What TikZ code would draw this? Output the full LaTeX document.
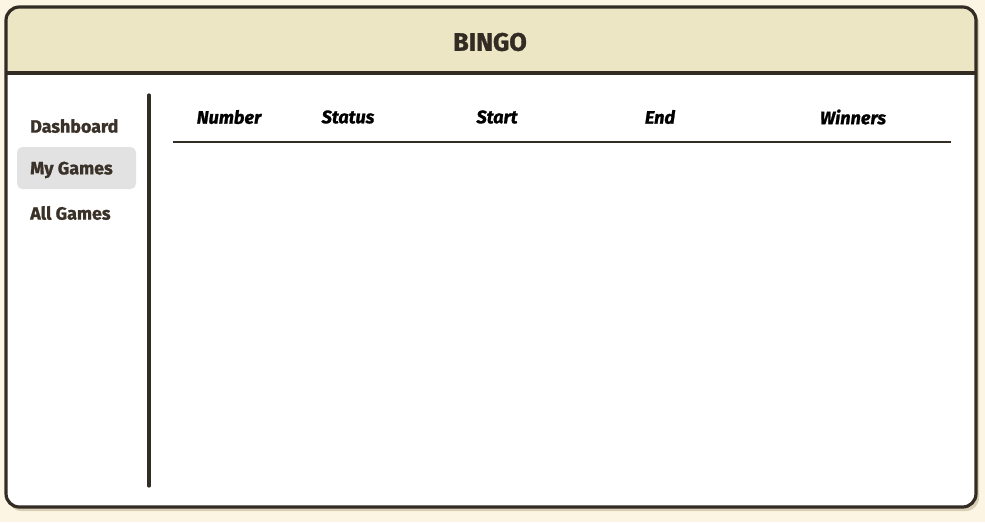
\documentclass[tikz,border=0pt]{standalone}
\usepackage{fontspec}
\setmainfont{Fira Sans}[BoldFeatures={FakeBold=1.2},BoldItalicFeatures={FakeBold=1.2}]
\definecolor{bgcream}{HTML}{FDF5E3}
\definecolor{frame}{HTML}{332C24}
\definecolor{headfill}{HTML}{ECE6C4}
\definecolor{shadowc}{HTML}{D9CFB4}
\definecolor{hl}{HTML}{E2E2E2}
\definecolor{navtext}{HTML}{3A3128}
\begin{document}
\begin{tikzpicture}[x=0.75pt,y=-0.75pt,
  navitem/.style={anchor=west,inner sep=0pt,font=\fontsize{13.4pt}{15pt}\selectfont\bfseries,text=navtext},
  colhead/.style={inner sep=0pt,font=\fontsize{13.6pt}{15pt}\selectfont\bfseries\itshape,text=black},
  titletext/.style={inner sep=0pt,font=\fontsize{19pt}{21pt}\selectfont\bfseries,text=frame}]
\fill[bgcream] (0,0) rectangle (985,522);
\useasboundingbox (0,0) rectangle (985,522);
% shadow
\fill[shadowc,rounded corners=10] (8,10) rectangle (979,511);
% window
\fill[white,rounded corners=10] (6,7) rectangle (976,507);
\begin{scope}
\clip[rounded corners=10] (6,7) rectangle (976,507);
\fill[headfill] (6,7) rectangle (976,73);
\end{scope}
\draw[frame,line width=2.6pt] (6,73) -- (976,73);
\draw[frame,line width=2.4pt,rounded corners=10] (6,7) rectangle (976,507);
\node[titletext] (title) at (490,42) {BINGO};
% sidebar
\draw[frame,line width=2.4pt,line cap=round] (149,95) -- (149,486);
\fill[hl,rounded corners=4] (17,147) rectangle (136,189);
\node[navitem] (dash) at (30,126) {Dashboard};
\node[navitem] (mygames) at (30,170) {My Games};
\node[navitem] (allgames) at (30,213) {All Games};
% table header
\node[colhead] (hnum) at (229,117) {Number};
\node[colhead] (hstat) at (348,117) {Status};
\node[colhead] (hstart) at (497,117) {Start};
\node[colhead] (hend) at (660,117) {End};
\node[colhead] (hwin) at (853,117) {Winners};
\coordinate (rl) at (173,142);
\coordinate (rr) at (951,142);
\draw[frame,line width=1.1pt] (rl) -- (rr);
\end{tikzpicture}
\end{document}
